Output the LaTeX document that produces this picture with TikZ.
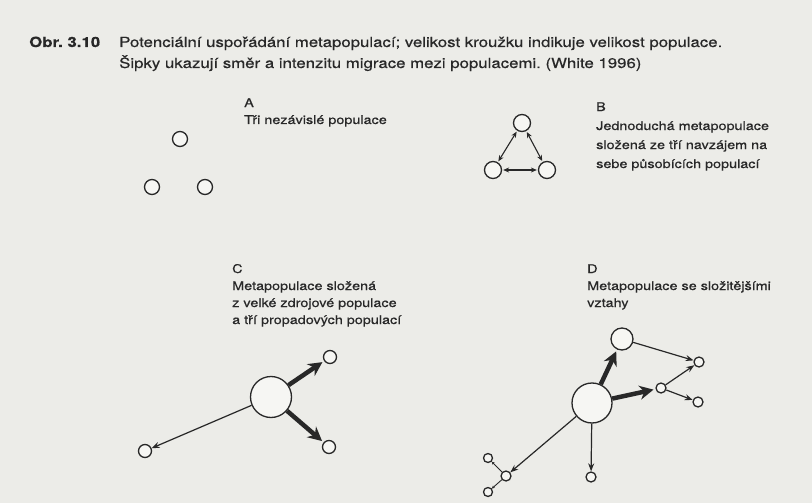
\documentclass[tikz,border=0pt]{standalone}
\usepackage{fontspec}
\setmainfont[FakeStretch=1.2,FakeBold=0.5]{TeX Gyre Heros}
\usetikzlibrary{arrows.meta}
\frenchspacing
\definecolor{ink}{RGB}{40,40,40}
\definecolor{paper}{RGB}{236,236,232}
\definecolor{hole}{RGB}{246,246,243}
\tikzset{
  pop/.style={circle,draw=ink,fill=hole,line width=1.3pt,inner sep=0pt,minimum size=#1},
  flow/.style={draw=ink,line width=1.2pt,-{Stealth[length=8pt,width=6pt]}},
  bothflow/.style={draw=ink,line width=1.1pt,{Stealth[length=6pt,width=5pt]}-{Stealth[length=6pt,width=5pt]},shorten <=1pt,shorten >=1pt},
  bigflow/.style={draw=ink,line width=4.5pt,-{Stealth[length=14pt,width=14pt]},shorten >=2pt},
  tinyflow/.style={draw=ink,line width=0.9pt,-{Stealth[length=3pt,width=3pt]}},
  caption/.style={anchor=base west,inner sep=0pt,text=ink,font=\fontsize{14}{21}\selectfont,align=left},
  note/.style={anchor=base west,inner sep=0pt,text=ink,font=\fontsize{12}{#1}\selectfont,align=left}
}
\begin{document}
\begin{tikzpicture}[x=1pt,y=1pt]
  \fill[paper] (0,0) rectangle (812,-503);
  \useasboundingbox (0,0) rectangle (812,-503);
  % caption (nodes sit on the baseline of their last line)
  \node[caption,font=\fontsize{14}{21}\selectfont\bfseries] (obr) at (29,-47) {Obr. 3.10};
  \node[caption] (title) at (119,-68) {Potenciální uspořádání metapopulací; velikost kroužku indikuje velikost populace.\\Šipky ukazují směr a intenzitu migrace mezi populacemi. (White 1996)};

  % A
  \node[note=17] (textA) at (244,-124) {A\\Tři nezávislé populace};
  \node[pop=15] (a1) at (180,-139) {};
  \node[pop=15] (a2) at (152,-187) {};
  \node[pop=15] (a3) at (205,-187) {};

  % B
  \node[note=19] (textB) at (596,-168) {B\\Jednoduchá metapopulace\\složená ze tří navzájem na\\sebe působících populací};
  \node[pop=17] (b1) at (522,-123) {};
  \node[pop=17] (b2) at (493,-170) {};
  \node[pop=17] (b3) at (547,-170) {};
  \draw[bothflow] (b1) -- (b2);
  \draw[bothflow] (b1) -- (b3);
  \draw[bothflow] (b2) -- (b3);

  % C
  \node[note=17] (textC) at (232,-324) {C\\Metapopulace složená\\z velké zdrojové populace\\a tří propadových populací};
  \node[pop=41] (cbig) at (271,-397) {};
  \node[pop=13] (c1) at (330,-357) {};
  \node[pop=13] (c2) at (329,-447) {};
  \node[pop=13] (c3) at (145,-451) {};
  \draw[bigflow] (cbig) -- (c1);
  \draw[bigflow] (cbig) -- (c2);
  \draw[flow] (cbig) -- (c3);

  % D
  \node[note=17] (textD) at (587,-307) {D\\Metapopulace se složitějšími\\vztahy};
  \node[pop=40] (dbig) at (592,-403) {};
  \node[pop=22] (dmid) at (622,-339) {};
  \node[pop=10] (d1) at (699,-362) {};
  \node[pop=10] (d2) at (661,-388) {};
  \node[pop=10] (d3) at (698,-402) {};
  \node[pop=10] (d4) at (591,-477) {};
  \node[pop=10] (d5) at (506,-476) {};
  \node[pop=9] (d6) at (488,-458) {};
  \node[pop=9] (d7) at (488,-492) {};
  \draw[bigflow] (dbig) -- (dmid);
  \draw[bigflow] (dbig) -- (d2);
  \draw[flow] (dmid) -- (d1);
  \draw[flow] (d2) -- (d1);
  \draw[flow] (d2) -- (d3);
  \draw[flow] (dbig) -- (d4);
  \draw[flow] (dbig) -- (d5);
  \draw[tinyflow] (d5) -- (d6);
  \draw[tinyflow] (d5) -- (d7);
\end{tikzpicture}
\end{document}
